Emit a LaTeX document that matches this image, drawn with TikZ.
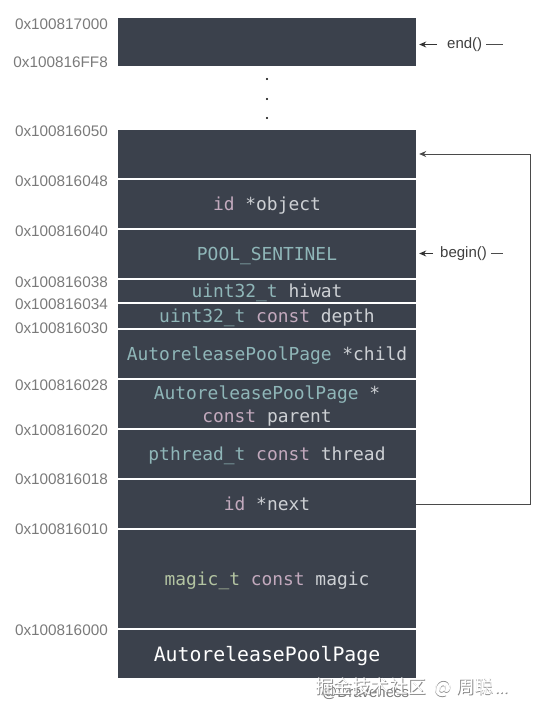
\documentclass[tikz,border=0pt]{standalone}
\usepackage{fontspec}
\setmainfont{Liberation Sans}
\newfontfamily\codefont{DejaVu Sans Mono}
\newfontfamily\cjk{Noto Sans CJK SC}
\usetikzlibrary{arrows.meta}
\definecolor{blkfill}{HTML}{3B414C}
\definecolor{cteal}{HTML}{8FB6B8}
\definecolor{cpink}{HTML}{C2A9BD}
\definecolor{cgray}{HTML}{CDD0D4}
\definecolor{cgreen}{HTML}{B3C4A2}
\definecolor{addrgray}{HTML}{7A7A7A}
\definecolor{linegray}{HTML}{4A4A4A}
\newcommand{\tl}[1]{\textcolor{cteal}{#1}}
\newcommand{\pk}[1]{\textcolor{cpink}{#1}}
\newcommand{\gy}[1]{\textcolor{cgray}{#1}}
\newcommand{\gr}[1]{\textcolor{cgreen}{#1}}
\tikzset{
  blk/.style={rectangle, fill=blkfill, inner sep=0pt, minimum width=298pt,
    text height=13pt, text depth=0pt,
    align=center, font=\codefont\fontsize{17.9}{23}\selectfont},
  addr/.style={anchor=east, inner sep=0pt, text=addrgray, font=\fontsize{15.3}{18}\selectfont},
  fnlbl/.style={anchor=west, inner sep=0pt, text=black!75, font=\fontsize{15}{18}\selectfont},
  arr/.style={draw=black!80, line width=0.9pt, -{Stealth[length=7pt,width=6pt]}},
  dashln/.style={draw=black!70, line width=0.9pt},
  looparr/.style={draw=linegray, line width=0.9pt, -{Stealth[length=7pt,width=6pt]}},
  wmark/.style={anchor=west, inner sep=0pt, font=\cjk\fontsize{18.5}{20}\selectfont},
}
\newcommand{\wmtext}{掘金技术社区\hspace{8pt}@\hspace{5pt}周聪\hspace{1pt}{\fontsize{16}{16}\selectfont ...}}
\begin{document}
\begin{tikzpicture}[x=1pt,y=-1pt]
\useasboundingbox (0,0) rectangle (542,718);
% memory blocks
\node[blk, minimum height=48pt] (btop) at (267,42) {};
\node[blk, minimum height=48pt] (b050) at (267,154) {};
\node[blk, minimum height=48pt] (b048) at (267,204) {\pk{id} \gy{*object}};
\node[blk, minimum height=48pt] (b040) at (267,254) {\tl{POOL\_SENTINEL}};
\node[blk, minimum height=22pt] (b038) at (267,291) {\tl{uint32\_t} \gy{hiwat}};
\node[blk, minimum height=24pt] (b034) at (267,316) {\tl{uint32\_t} \pk{const} \gy{depth}};
\node[blk, minimum height=48pt] (b030) at (267,354) {\tl{AutoreleasePoolPage} \gy{*child}};
\node[blk, minimum height=48pt, text height=36pt] (b028) at (267,404) {\tl{AutoreleasePoolPage} \gy{*}\\\pk{const} \gy{parent}};
\node[blk, minimum height=48pt] (b020) at (267,454) {\tl{pthread\_t} \pk{const} \gy{thread}};
\node[blk, minimum height=48pt] (b018) at (267,504) {\pk{id} \gy{*next}};
\node[blk, minimum height=98pt] (b010) at (267,579) {\gr{magic\_t} \pk{const} \gy{magic}};
\node[blk, minimum height=48pt, text height=14.5pt, font=\codefont\fontsize{19.8}{24}\selectfont, text=white] (b000) at (267,654) {AutoreleasePoolPage};
% dots
\fill[black] (267,79) circle (1.2pt);
\fill[black] (267,99) circle (1.2pt);
\fill[black] (267,118) circle (1.2pt);
% addresses
\node[addr] (a1) at (108,24) {0x100817000};
\node[addr] (a2) at (108,62.5) {0x100816FF8};
\node[addr] (a3) at (108,131.5) {0x100816050};
\node[addr] (a4) at (108,181.5) {0x100816048};
\node[addr] (a5) at (108,231.5) {0x100816040};
\node[addr] (a6) at (108,282) {0x100816038};
\node[addr] (a7) at (108,304) {0x100816034};
\node[addr] (a8) at (108,328) {0x100816030};
\node[addr] (a9) at (108,385) {0x100816028};
\node[addr] (a10) at (108,430) {0x100816020};
\node[addr] (a11) at (108,479) {0x100816018};
\node[addr] (a12) at (108,529) {0x100816010};
\node[addr] (a13) at (108,630) {0x100816000};
% end() and begin()
\node[fnlbl] (endl) at (447,44.5) {end()};
\coordinate (endd) at (503,44.5);
\draw[arr, shorten <=10pt, shorten >=3pt] (endl.west) -- (endl.west -| btop.east);
\draw[dashln, shorten <=4pt] (endl.east) -- (endd);
\node[fnlbl] (begl) at (440,253.5) {begin()};
\coordinate (begd) at (503,253.5);
\draw[arr, shorten <=7pt, shorten >=3pt] (begl.west) -- (begl.west -| b040.east);
\draw[dashln, shorten <=4pt] (begl.east) -- (begd);
% next -> top of stack
\coordinate (loopc) at (530,504);
\draw[looparr, shorten >=3pt] (b018.east) -- (loopc) |- (b050.east);
% watermark
\node[anchor=west, inner sep=0pt, text=addrgray, font=\fontsize{15}{18}\selectfont] (wm1) at (322,693) {@Draveness};
\node[wmark, text=black!45] (wm2s) at (315.8,687.8) {\wmtext};
\node[wmark, text=white] (wm2) at (315,687) {\wmtext};
\end{tikzpicture}
\end{document}
